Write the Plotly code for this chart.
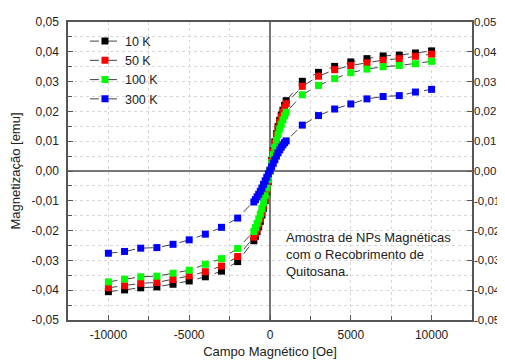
import plotly.graph_objects as go

field = [-10000, -9000, -8000, -7000, -6000, -5000, -4000, -3000, -2000,
         -1000, -900, -800, -700, -600, -500, -400, -300, -200, -100,
         0,
         100, 200, 300, 400, 500, 600, 700, 800, 900, 1000,
         2000, 3000, 4000, 5000, 6000, 7000, 8000, 9000, 10000]

m_10k = [-0.0405, -0.0399, -0.0392, -0.0389, -0.0380, -0.0369, -0.0355, -0.0336, -0.0304,
         -0.0234, -0.0219, -0.0203, -0.0187, -0.0169, -0.0148, -0.0125, -0.0099, -0.0069, -0.0036,
         0.0,
         0.0035, 0.0068, 0.0098, 0.0125, 0.0149, 0.0170, 0.0188, 0.0204, 0.0220, 0.0236,
         0.0301, 0.0331, 0.0351, 0.0366, 0.0377, 0.0386, 0.0389, 0.0396, 0.0403]

m_50k = [-0.0392, -0.0385, -0.0377, -0.0374, -0.0364, -0.0352, -0.0338, -0.0319, -0.0287,
         -0.0222, -0.0209, -0.0194, -0.0178, -0.0160, -0.0140, -0.0118, -0.0093, -0.0065, -0.0034,
         0.0,
         0.0033, 0.0065, 0.0094, 0.0120, 0.0143, 0.0163, 0.0181, 0.0197, 0.0212, 0.0226,
         0.0284, 0.0318, 0.0340, 0.0354, 0.0363, 0.0372, 0.0377, 0.0385, 0.0392]

m_100k = [-0.0372, -0.0363, -0.0355, -0.0353, -0.0343, -0.0333, -0.0313, -0.0294, -0.0260,
          -0.0203, -0.0190, -0.0176, -0.0161, -0.0145, -0.0126, -0.0106, -0.0083, -0.0057, -0.0029,
          0.0,
          0.0028, 0.0055, 0.0080, 0.0103, 0.0123, 0.0141, 0.0157, 0.0172, 0.0185, 0.0197,
          0.0256, 0.0287, 0.0310, 0.0330, 0.0342, 0.0350, 0.0354, 0.0360, 0.0368]

m_300k = [-0.0276, -0.0270, -0.0259, -0.0257, -0.0246, -0.0231, -0.0212, -0.0189, -0.0158,
          -0.0104, -0.0096, -0.0087, -0.0078, -0.0068, -0.0057, -0.0045, -0.0033, -0.0021, -0.0009,
          0.0003,
          0.0014, 0.0026, 0.0038, 0.0050, 0.0061, 0.0071, 0.0080, 0.0088, 0.0095, 0.0101,
          0.0154, 0.0186, 0.0208, 0.0225, 0.0242, 0.0250, 0.0253, 0.0265, 0.0274]

series_names = ["10 K", "50 K", "100 K", "300 K"]
series_colors = ["#000000", "#ff0000", "#00ff00", "#0000ff"]
series_values = [m_10k, m_50k, m_100k, m_300k]

x_tickvals = [-10000, -5000, 0, 5000, 10000]
x_ticktext = ["-10000", "-5000", "0", "5000", "10000"]
y_tickvals = [-0.05, -0.04, -0.03, -0.02, -0.01, 0.0, 0.01, 0.02, 0.03, 0.04, 0.05]
y_ticktext = ["-0,05", "-0,04", "-0,03", "-0,02", "-0,01", "0,00",
              "0,01", "0,02", "0,03", "0,04", "0,05"]

note_text = "Amostra de NPs Magnéticas<br>com o Recobrimento de<br>Quitosana."

FONT = "Liberation Sans, Arial, sans-serif"
AXC = "#555555"
GRID = "#d8d8d8"

fig = go.Figure()
for name, col, vals in zip(series_names, series_colors, series_values):
    fig.add_trace(go.Scatter(
        x=field, y=vals, name=name, mode="lines+markers",
        line=dict(color="#444444", width=1, dash="dash"),
        marker=dict(symbol="square", size=7, color=col),
    ))

fig.add_trace(go.Scatter(x=[None], y=[None], yaxis="y2", showlegend=False, hoverinfo="skip"))

# page body has an 8px default margin, so the figure is 8px smaller and shifted
fig.update_layout(
    width=497, height=352,
    margin=dict(l=60, r=33, t=14, b=40, autoexpand=False),
    paper_bgcolor="white", plot_bgcolor="white",
    font=dict(family=FONT, size=12, color="#222222"),
    showlegend=True,
    legend=dict(x=0.042, y=0.985, xanchor="left", yanchor="top",
                bgcolor="rgba(0,0,0,0)", font=dict(size=12.5, color="#222222"),
                tracegroupgap=0, itemwidth=30),
    xaxis=dict(
        range=[-12500, 12500], tickmode="array", tickvals=x_tickvals, ticktext=x_ticktext,
        ticks="inside", ticklen=5, tickcolor=AXC, tickwidth=1,
        showline=True, linecolor=AXC, linewidth=1.5, mirror=True,
        zeroline=True, zerolinecolor="#777777", zerolinewidth=1.5,
        gridcolor=GRID, griddash="dot", showgrid=True, automargin=False,
        minor=dict(tickmode="array", tickvals=[-7500, -2500, 2500, 7500],
                   ticks="inside", ticklen=4, tickcolor=AXC, showgrid=True,
                   gridcolor=GRID, griddash="dot"),
        title=dict(text="Campo Magnético [Oe]", font=dict(size=13), standoff=6),
        tickfont=dict(size=12), ticklabelstandoff=3,
    ),
    yaxis=dict(
        range=[-0.05, 0.05], tickmode="array", tickvals=y_tickvals, ticktext=y_ticktext,
        ticks="inside", ticklen=5, tickcolor=AXC, tickwidth=1,
        showline=True, linecolor=AXC, linewidth=1.5, mirror=True,
        zeroline=True, zerolinecolor="#777777", zerolinewidth=1.5,
        gridcolor=GRID, griddash="dot", showgrid=True, automargin=False,
        minor=dict(tickmode="array",
                   tickvals=[-0.045, -0.035, -0.025, -0.015, -0.005, 0.005, 0.015, 0.025, 0.035, 0.045],
                   ticks="inside", ticklen=4, tickcolor=AXC, showgrid=True,
                   gridcolor=GRID, griddash="dot"),
        title=dict(text="Magnetização [emu]", font=dict(size=13), standoff=12),
        tickfont=dict(size=12), ticklabelstandoff=5,
    ),
    yaxis2=dict(
        overlaying="y", side="right", range=[-0.05, 0.05],
        tickmode="array", tickvals=y_tickvals, ticktext=y_ticktext,
        ticks="inside", ticklen=5, tickcolor=AXC, showgrid=False, zeroline=False,
        showline=False, tickfont=dict(size=11.5), automargin=False, ticklabelstandoff=1,
    ),
    annotations=[dict(
        x=0.535, y=0.31, xref="paper", yref="paper", xanchor="left", yanchor="top",
        text=note_text, showarrow=False, align="left",
        font=dict(size=13, color="#222222"),
    )],
)

fig.write_html("out.html")
